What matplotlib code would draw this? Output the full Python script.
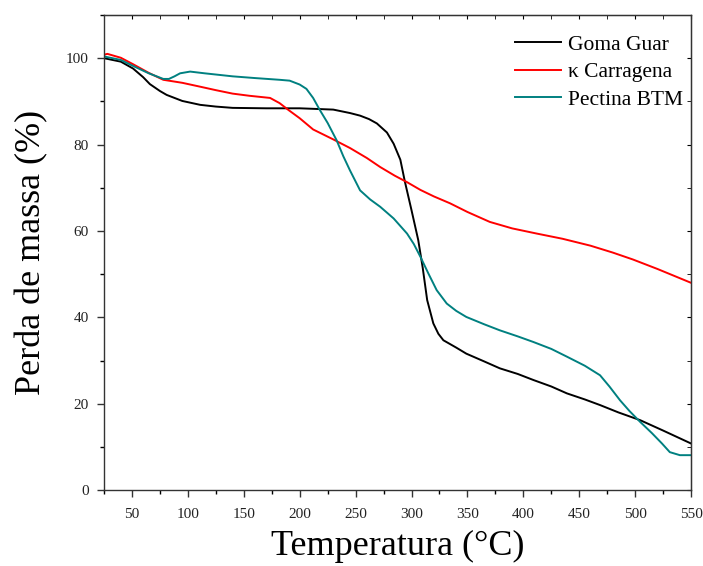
#!/usr/bin/env python3

import matplotlib
matplotlib.use('Agg')
import matplotlib.pyplot as plt
from matplotlib.ticker import MultipleLocator
import numpy as np

plt.rcParams['font.family'] = ['Liberation Serif', 'DejaVu Serif']

# TGA curves
temp_guar = [25, 40, 51, 60, 66, 75, 81, 95, 111, 125, 140, 170, 200, 230, 245, 254, 262, 269,
             278, 284, 290, 294, 300, 306, 310, 314, 319.5, 324, 328.5, 340, 349, 365, 379, 395,
             409, 425, 439, 455, 468.6, 485, 504.5, 525, 550]
mass_guar = [100, 99.2, 97.6, 95.6, 94.0, 92.4, 91.5, 90.1, 89.2, 88.8, 88.5, 88.4, 88.4, 88.1,
             87.3, 86.7, 85.9, 84.9, 82.8, 80.2, 76.5, 71.5, 64.8, 57.9, 51.5, 44.0, 38.6, 36.2,
             34.7, 33.0, 31.6, 29.8, 28.2, 26.9, 25.5, 24.0, 22.4, 21.0, 19.7, 18.0, 16.2, 13.8, 10.8]

temp_carr = [25, 28, 40, 51, 65, 78, 95, 111, 125, 140, 155, 173.5, 182, 190, 200, 212, 230,
             245, 260, 272, 285, 296, 308, 320, 334.5, 350, 370, 390, 412, 435, 460, 480, 498,
             520, 550]
mass_carr = [100.8, 101.0, 100.1, 98.6, 96.6, 95.0, 94.3, 93.4, 92.6, 91.8, 91.3, 90.8, 89.6,
             88.0, 86.1, 83.5, 81.2, 79.2, 76.9, 74.8, 72.8, 71.3, 69.5, 68.0, 66.4, 64.4, 62.1,
             60.6, 59.4, 58.2, 56.6, 55.0, 53.4, 51.2, 48.0]

temp_pect = [25, 40, 51, 65, 78, 83, 88, 93, 102, 115, 140, 160, 182, 191, 200, 206, 212, 218,
             225, 233, 239, 245, 254, 263, 272, 284, 296, 302, 308, 315, 322.5, 331.5, 340, 349,
             365, 379, 395, 409, 425, 439, 455, 468.6, 477, 486.5, 495, 504.5, 515, 524, 531,
             540, 550]
mass_pect = [100.4, 99.6, 98.2, 96.5, 95.2, 95.2, 95.8, 96.5, 96.9, 96.5, 95.8, 95.4, 95.0,
             94.8, 93.9, 92.9, 90.8, 88.0, 85.0, 81.0, 77.3, 74.0, 69.4, 67.3, 65.6, 62.9, 59.4,
             57.0, 54.0, 50.2, 46.3, 43.2, 41.5, 40.1, 38.4, 37.0, 35.6, 34.3, 32.7, 30.9, 28.8,
             26.6, 24.0, 20.8, 18.3, 15.8, 13.2, 10.8, 8.8, 8.1, 8.1]

labels = ['Goma Guar', 'κ Carragena', 'Pectina BTM']
colours = ['black', '#ff0000', '#008080']

fig = plt.figure(figsize=(7.03, 5.66), dpi=100)
ax = fig.add_axes([0.148, 0.134, 0.835, 0.8395])

ax.plot(temp_guar, mass_guar, color=colours[0], lw=1.4, label=labels[0])
ax.plot(temp_carr, mass_carr, color=colours[1], lw=1.4, label=labels[1])
ax.plot(temp_pect, mass_pect, color=colours[2], lw=1.4, label=labels[2])

ax.set_xlim(25, 550)
ax.set_ylim(0, 110)
ax.xaxis.set_major_locator(MultipleLocator(50))
ax.xaxis.set_minor_locator(MultipleLocator(25))
ax.set_yticks([0, 20, 40, 60, 80, 100])
ax.yaxis.set_minor_locator(MultipleLocator(10))

# ticks: outward on bottom/left, inward on top/right
ax.tick_params(axis='both', which='major', direction='out', length=5, width=1,
               labelsize=11, colors='#333333', labelcolor='#222222', pad=6)
ax.tick_params(axis='x', which='major', pad=8)
ax.tick_params(axis='both', which='minor', direction='out', length=3, width=1)
ax2 = ax.secondary_xaxis('top')
ax2.set_xticks(np.arange(50, 551, 50))
ax2.xaxis.set_minor_locator(MultipleLocator(25))
ax2.tick_params(which='both', direction='in', labeltop=False, length=3)
ax3 = ax.secondary_yaxis('right')
ax3.set_yticks(np.arange(0, 111, 20))
ax3.yaxis.set_minor_locator(MultipleLocator(10))
ax3.tick_params(which='both', direction='in', labelright=False, length=3)

for s in ax.spines.values():
    s.set_linewidth(1.0)
    s.set_color('#333333')

ax.set_xlabel('Temperatura (°C)', fontsize=26, labelpad=6)
ax.set_ylabel('Perda de massa (%)', fontsize=26, labelpad=13)

ax.legend(loc='upper right', bbox_to_anchor=(1.012, 0.99), frameon=False, fontsize=15.5,
          handlelength=2.15, handletextpad=0.33, labelspacing=0.34, borderaxespad=0.3)

plt.savefig('out.png', dpi=100)
